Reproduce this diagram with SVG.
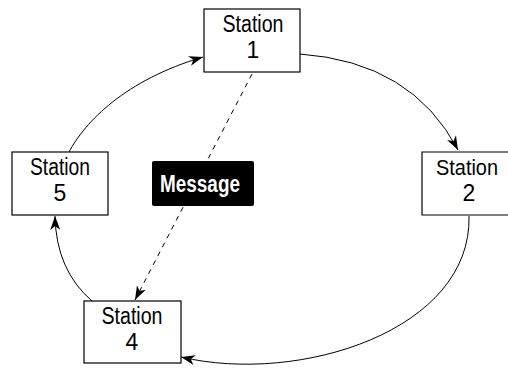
<svg xmlns="http://www.w3.org/2000/svg" width="508" height="369" viewBox="0 0 508 369">
<style>
.box{fill:#fff;stroke:#000;stroke-width:1.2}
.lbl{font-family:"Liberation Sans Narrow","Liberation Sans",sans-serif;font-size:23px;fill:#000;text-anchor:middle}
.con{fill:none;stroke:#000;stroke-width:1}
.msg{font-family:"Liberation Sans Narrow","Liberation Sans",sans-serif;font-size:23px;font-weight:bold;fill:#fff;text-anchor:middle}
</style>
<defs>
<marker id="ah" viewBox="0 0 14 10" refX="14" refY="5" markerWidth="14" markerHeight="10" markerUnits="userSpaceOnUse" orient="auto">
<path d="M0,0 L14,5 L0,10 L4,5 Z" fill="#000"/>
</marker>
</defs>
<rect width="508" height="369" fill="#fff"/>
<g id="connectors">
<path class="con" d="M300,54 Q412,62 458,150" marker-end="url(#ah)"/>
<path class="con" d="M469,216 C472,330 300,385 181,357" marker-end="url(#ah)"/>
<path class="con" d="M92,301 Q56,270 55,216" marker-end="url(#ah)"/>
<path class="con" d="M69,152 C85,122 125,80 203,57" marker-end="url(#ah)"/>
<path class="con" d="M252,74 L135,300" stroke-dasharray="5,5" marker-end="url(#ah)"/>
</g>
<g id="station1"><rect class="box" x="204" y="9" width="96" height="63"/><text class="lbl" x="253" y="32" textLength="61" lengthAdjust="spacingAndGlyphs">Station</text><text class="lbl" x="253" y="58">1</text></g>
<g id="station2"><path class="box" d="M508,152 H422 V215 H508"/><text class="lbl" x="467" y="175" textLength="62" lengthAdjust="spacingAndGlyphs" style="font-size:22px">Station</text><text class="lbl" x="469" y="201">2</text></g>
<g id="station4"><rect class="box" x="84" y="301" width="97" height="62"/><text class="lbl" x="132" y="324" textLength="61" lengthAdjust="spacingAndGlyphs">Station</text><text class="lbl" x="132" y="350">4</text></g>
<g id="station5"><rect class="box" x="12" y="152" width="96" height="63"/><text class="lbl" x="60" y="175" textLength="60" lengthAdjust="spacingAndGlyphs">Station</text><text class="lbl" x="60" y="201">5</text></g>
<g id="message"><rect x="152" y="161" width="102" height="45" rx="2" fill="#000"/><text class="msg" x="200" y="192" textLength="80" lengthAdjust="spacingAndGlyphs">Message</text></g>
</svg>
